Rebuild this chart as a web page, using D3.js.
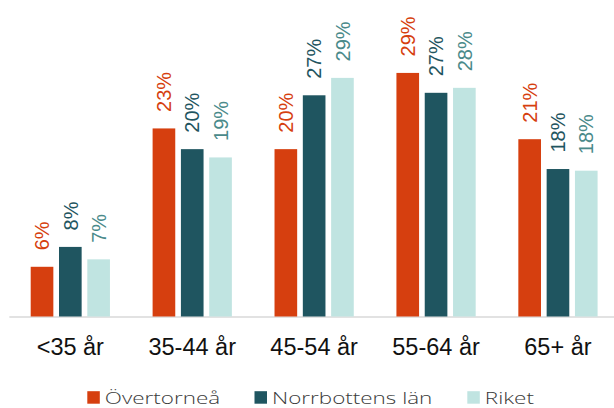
<!DOCTYPE html>
<html>
<head>
<meta charset="utf-8">
<title>Åldersfördelning</title>
<script src="https://d3js.org/d3.v7.min.js"></script>
<style>
  body { margin: 0; background: #fff; }
</style>
</head>
<body>
<div id="chart"></div>
<script>
// kategorier och serier
const categories = ["<35 år", "35-44 år", "45-54 år", "55-64 år", "65+ år"];
const seriesNames = ["Övertorneå", "Norrbottens län", "Riket"];
const overtornea = [6.0, 22.7, 20.2, 29.4, 21.4];
const norrbotten = [8.4, 20.2, 26.7, 27.0, 17.8];
const riket = [6.9, 19.2, 28.8, 27.6, 17.6];
const labels = [
  ["6%", "23%", "20%", "29%", "21%"],
  ["8%", "20%", "27%", "27%", "18%"],
  ["7%", "19%", "29%", "28%", "18%"]
];

const barColors = ["#d63f0f", "#1f5560", "#c0e4e1"];
const labelColors = ["#d63f0f", "#1f5560", "#4a8a8a"];

const W = 614, H = 408;
const base = 316.5;

const svg = d3.select("#chart").append("svg")
    .attr("width", W)
    .attr("height", H);

const x0 = d3.scaleBand()
    .domain(categories)
    .range([9.35, 618.9]);

const x1 = d3.scaleBand()
    .domain(seriesNames)
    .range([21.35, 100.6])
    .paddingInner(0.2);

const y = d3.scaleLinear()
    .domain([0, 35])
    .range([base, base - 35 * 8.285]);

const values = [overtornea, norrbotten, riket];

// baslinje
svg.append("line")
    .attr("x1", x0.range()[0])
    .attr("x2", W)
    .attr("y1", base + 0.5)
    .attr("y2", base + 0.5)
    .attr("stroke", "#d9d9d9")
    .attr("stroke-width", 1.5);

seriesNames.forEach(function(s, i) {
    const g = svg.append("g");
    g.selectAll("rect")
        .data(values[i])
        .enter()
        .append("rect")
        .attr("x", function(d, j) { return x0(categories[j]) + x1(s); })
        .attr("y", function(d) { return y(d); })
        .attr("width", x1.bandwidth())
        .attr("height", function(d) { return base - y(d); })
        .attr("fill", barColors[i]);

    g.selectAll("text")
        .data(values[i])
        .enter()
        .append("text")
        .attr("transform", function(d, j) {
            const cx = x0(categories[j]) + x1(s) + x1.bandwidth() / 2;
            return "translate(" + cx + "," + (y(d) - 16.5) + ") rotate(-90)";
        })
        .attr("dy", "0.36em")
        .attr("font-family", "Liberation Sans, Arial, sans-serif")
        .attr("font-size", "20px")
        .attr("fill", labelColors[i])
        .text(function(d, j) { return labels[i][j]; });
});

// kategorietiketter
svg.append("g").selectAll("text")
    .data(categories)
    .enter()
    .append("text")
    .attr("x", function(d) { return x0(d) + x0.bandwidth() / 2; })
    .attr("y", 355)
    .attr("text-anchor", "middle")
    .attr("font-family", "Liberation Sans, Arial, sans-serif")
    .attr("font-size", "23.5px")
    .attr("fill", "#111")
    .text(function(d) { return d; });

// legend
const legendX = [87.3, 254.5, 467.3];
const legend = svg.append("g");
seriesNames.forEach(function(s, i) {
    legend.append("rect")
        .attr("x", legendX[i])
        .attr("y", 391.2)
        .attr("width", 12.5)
        .attr("height", 12.5)
        .attr("fill", barColors[i]);
    legend.append("text")
        .attr("transform", "translate(" + (legendX[i] + 17.5) + ",403.5) scale(1.36,1)")
        .attr("font-family", "Open Sans, sans-serif")
        .attr("font-weight", 300)
        .attr("font-size", "16.5px")
        .attr("fill", "#3a3a3a")
        .text(s);
});
</script>
</body>
</html>
